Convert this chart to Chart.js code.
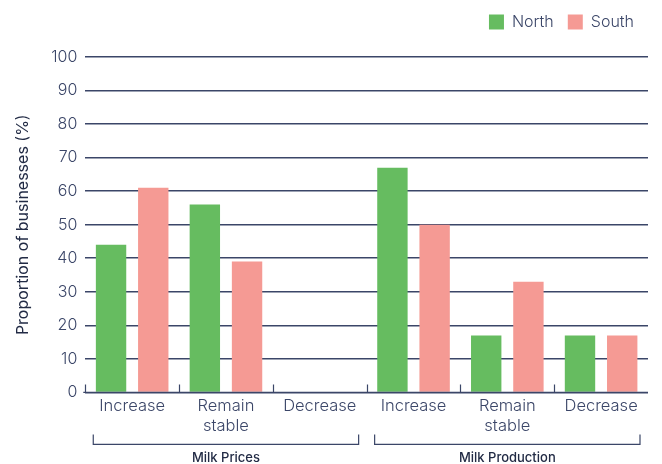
<!DOCTYPE html>
<html>
<head>
<meta charset="utf-8">
<script src="https://cdn.jsdelivr.net/npm/chart.js@4/dist/chart.umd.min.js"></script>
<style>
    html, body { margin: 0; padding: 0; background: #ffffff; }
    #wrap { width: 662px; height: 464px; position: relative; }
</style>
</head>
<body>
<div id="wrap"><canvas id="milkChart" width="662" height="464"></canvas></div>
<script>
"use strict";

// Категории и значения
const categories = [['Increase'], ['Remain', 'stable'], ['Decrease'], ['Increase'], ['Remain', 'stable'], ['Decrease']];
const groups = ['Milk Prices', 'Milk Production'];
const groupSpans = [[0, 2], [3, 5]];
const northValues = [44, 56, 0, 67, 17, 17];
const southValues = [61, 39, 0, 50, 33, 17];

const navy = '#3b4668';
const fontFamily = 'Inter, "Noto Sans", sans-serif';

// Дополнительный отступ под легендой
const legendGap = {
    id: 'legendGap',
    beforeInit(chart) {
        const fit = chart.legend.fit;
        chart.legend.fit = function () {
            fit.bind(chart.legend)();
            this.height += 17;
        };
    }
};

// Засечки на оси X и скобки групп под подписями
const groupBrackets = {
    id: 'groupBrackets',
    afterDraw(chart) {
        const ctx = chart.ctx;
        const x = chart.scales.x;
        const area = chart.chartArea;
        const half = (x.getPixelForValue(1) - x.getPixelForValue(0)) / 2;

        ctx.save();
        ctx.strokeStyle = navy;
        ctx.lineWidth = 1.2;

        // базовая линия и засечки между категориями
        ctx.beginPath();
        ctx.moveTo(area.left - 2, area.bottom);
        ctx.lineTo(area.right, area.bottom);
        for (let i = 0; i < categories.length; i++) {
            const px = Math.round(x.getPixelForValue(i) - half) + 0.5;
            ctx.moveTo(px, area.bottom);
            ctx.lineTo(px, area.bottom - 8);
        }
        ctx.stroke();

        // скобки групп
        const yLine = area.bottom + 52;
        ctx.font = '500 13px ' + fontFamily;
        ctx.fillStyle = '#222b45';
        ctx.textAlign = 'center';
        ctx.textBaseline = 'middle';
        groupSpans.forEach((span, gi) => {
            const x0 = x.getPixelForValue(span[0]) - half + 8;
            const x1 = x.getPixelForValue(span[1]) + half - 8;
            ctx.beginPath();
            ctx.moveTo(x0, yLine - 10);
            ctx.lineTo(x0, yLine);
            ctx.lineTo(x1, yLine);
            ctx.lineTo(x1, yLine - 10);
            ctx.stroke();
            ctx.fillText(groups[gi], (x0 + x1) / 2, yLine + 14);
        });
        ctx.restore();
    }
};

const ctx = document.getElementById('milkChart').getContext('2d');

new Chart(ctx, {
    type: 'bar',
    data: {
        labels: categories,
        datasets: [{
            label: 'North',
            data: northValues,
            backgroundColor: '#66bc60',
            categoryPercentage: 0.9,
            barPercentage: 0.72
        }, {
            label: 'South',
            data: southValues,
            backgroundColor: '#f59a94',
            categoryPercentage: 0.9,
            barPercentage: 0.72
        }]
    },
    options: {
        responsive: false,
        animation: false,
        layout: {
            padding: { left: 14, right: 14, top: 0, bottom: 24 }
        },
        plugins: {
            legend: {
                position: 'top',
                align: 'end',
                labels: {
                    boxWidth: 15,
                    boxHeight: 15,
                    padding: 14,
                    color: navy,
                    font: { family: fontFamily, size: 16, weight: '300' }
                }
            },
            tooltip: { enabled: false }
        },
        scales: {
            x: {
                grid: { display: false, drawTicks: false },
                border: { display: false },
                ticks: {
                    color: navy,
                    padding: 4,
                    maxRotation: 0,
                    font: { family: fontFamily, size: 16.5, weight: '300', lineHeight: 1.2 }
                }
            },
            y: {
                min: 0,
                max: 100,
                border: { display: false },
                grid: {
                    color: navy,
                    lineWidth: 1.5,
                    drawTicks: false
                },
                ticks: {
                    stepSize: 10,
                    color: navy,
                    padding: 8,
                    font: { family: fontFamily, size: 16, weight: '300' }
                },
                title: {
                    display: true,
                    text: 'Proportion of businesses (%)',
                    color: '#222b45',
                    padding: { top: 0, bottom: 10 },
                    font: { family: fontFamily, size: 16 }
                }
            }
        }
    },
    plugins: [legendGap, groupBrackets]
});
</script>
</body>
</html>
